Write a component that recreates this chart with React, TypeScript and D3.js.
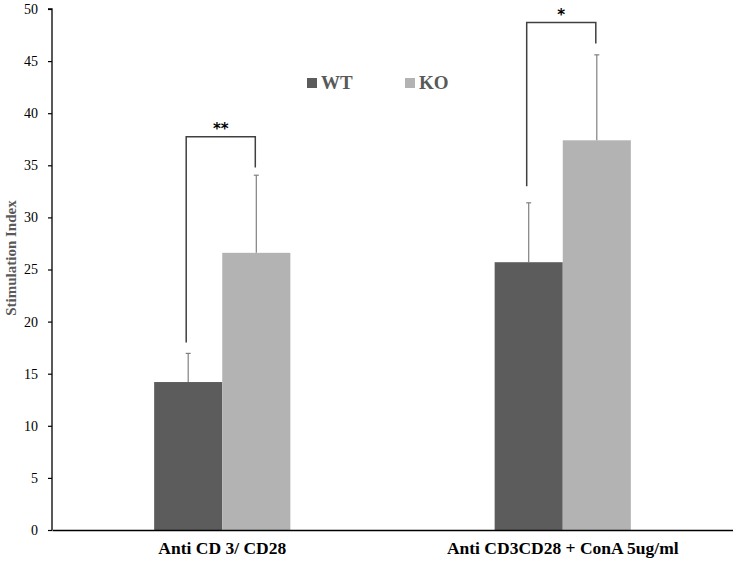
import * as d3 from "d3";
import { useEffect, useRef } from "react";

const categories = ["Anti CD 3/ CD28", "Anti CD3CD28 + ConA 5ug/ml"];
const seriesNames = ["WT", "KO"];
const wtValues = [14.2, 25.7];
const koValues = [26.6, 37.4];
const wtErrors = [2.75, 5.7];
const koErrors = [7.45, 8.2];
const significance = ["**", "*"];
const bracketTops = [37.75, 48.7];
const bracketLeftEnds = [18.0, 33.0];
const bracketRightEnds = [34.8, 46.7];
const yTicks = [0, 5, 10, 15, 20, 25, 30, 35, 40, 45, 50];

const colors = ["#5c5c5c", "#b3b3b3"];
const SERIF = "Liberation Serif, Times New Roman, serif";

export default function App() {
  const ref = useRef<SVGSVGElement | null>(null);

  useEffect(() => {
    if (!ref.current) return;
    const svg = d3.select(ref.current);
    svg.selectAll("*").remove();

    const width = 733;
    const height = 562;
    const margin = { top: 9, right: 0, bottom: 32, left: 52 };

    const x = d3
      .scaleBand<string>()
      .domain(categories)
      .range([margin.left, width - margin.right]);
    const xs = d3
      .scaleBand<string>()
      .domain(seriesNames)
      .range([0, x.bandwidth()])
      .paddingInner(0)
      .paddingOuter(1.5);
    const y = d3
      .scaleLinear()
      .domain([0, 50])
      .range([height - margin.bottom, margin.top]);

    const rows = categories.map((c, i) => ({
      cat: c,
      vals: [wtValues[i], koValues[i]],
      errs: [wtErrors[i], koErrors[i]],
      sig: significance[i],
      bTop: bracketTops[i],
      bLeft: bracketLeftEnds[i],
      bRight: bracketRightEnds[i],
    }));

    // bars
    const grp = svg
      .append("g")
      .selectAll("g")
      .data(rows)
      .join("g")
      .attr("transform", (d) => `translate(${x(d.cat)},0)`);

    seriesNames.forEach((s, si) => {
      grp
        .append("rect")
        .attr("x", xs(s)!)
        .attr("width", xs.bandwidth())
        .attr("y", (d) => y(d.vals[si]))
        .attr("height", (d) => y(0) - y(d.vals[si]))
        .attr("fill", colors[si]);

      // error bars (upper only)
      const cx = xs(s)! + xs.bandwidth() / 2;
      grp
        .append("line")
        .attr("x1", cx)
        .attr("x2", cx)
        .attr("y1", (d) => y(d.vals[si]))
        .attr("y2", (d) => y(d.vals[si] + d.errs[si]))
        .attr("stroke", "#808080")
        .attr("stroke-width", 1.2);
      grp
        .append("line")
        .attr("x1", cx - 2.5)
        .attr("x2", cx + 2.5)
        .attr("y1", (d) => y(d.vals[si] + d.errs[si]))
        .attr("y2", (d) => y(d.vals[si] + d.errs[si]))
        .attr("stroke", "#808080")
        .attr("stroke-width", 1.2);
    });

    // significance brackets
    grp.each(function (d) {
      const g = d3.select(this);
      const xl = xs("WT")! + xs.bandwidth() / 2 - 2;
      const xr = xs("KO")! + xs.bandwidth() / 2 - 1;
      const top = y(d.bTop);
      g.append("path")
        .attr("d", `M${xl},${y(d.bLeft)}V${top}H${xr}V${y(d.bRight)}`)
        .attr("fill", "none")
        .attr("stroke", "#404040")
        .attr("stroke-width", 1.5);
      g.append("text")
        .attr("x", (xl + xr) / 2)
        .attr("y", top - 3)
        .attr("text-anchor", "middle")
        .style("font-family", "DejaVu Sans, sans-serif")
        .style("font-weight", "bold")
        .style("font-size", "15px")
        .attr("fill", "#000")
        .text(d.sig);
    });

    // y axis
    const yAxis = svg
      .append("g")
      .attr("transform", `translate(${margin.left},0)`)
      .call(
        d3
          .axisLeft(y)
          .tickValues(yTicks)
          .tickSize(4)
          .tickPadding(10)
          .tickFormat(d3.format("d"))
      );
    yAxis
      .select(".domain")
      .attr("stroke", "#000")
      .attr("stroke-width", 1.3)
      .attr("d", `M-4,${y(50)}H0V${y(0)}`);
    yAxis.selectAll(".tick line").attr("stroke", "#000").attr("stroke-width", 1.2);
    yAxis
      .selectAll(".tick text")
      .style("font-family", SERIF)
      .style("font-size", "14px")
      .attr("fill", "#000");

    // x axis
    const xAxis = svg
      .append("g")
      .attr("transform", `translate(0,${y(0)})`)
      .call(d3.axisBottom(x).tickSize(0).tickPadding(12));
    xAxis.select(".domain").attr("stroke", "#000").attr("stroke-width", 1.5);
    xAxis
      .selectAll(".tick text")
      .style("font-family", SERIF)
      .style("font-size", "17.5px")
      .style("font-weight", "bold")
      .attr("fill", "#000");

    // axis title
    svg
      .append("text")
      .attr("transform", `translate(16,${y(26.1)}) rotate(-90)`)
      .attr("text-anchor", "middle")
      .style("font-family", SERIF)
      .style("font-size", "15px")
      .style("font-weight", "bold")
      .attr("fill", "#595959")
      .text("Stimulation Index");

    // legend
    const legendX = [307, 405];
    seriesNames.forEach((s, i) => {
      svg
        .append("rect")
        .attr("x", legendX[i])
        .attr("y", 78)
        .attr("width", 10)
        .attr("height", 10)
        .attr("fill", colors[i]);
      svg
        .append("text")
        .attr("x", legendX[i] + 14)
        .attr("y", 89)
        .style("font-family", SERIF)
        .style("font-size", "19px")
        .style("font-weight", "bold")
        .attr("fill", "#595959")
        .text(s);
    });
  }, []);

  return (
    <svg
      ref={ref}
      width={733}
      height={562}
      style={{ position: "absolute", left: 0, top: 0, background: "#fff" }}
    />
  );
}
